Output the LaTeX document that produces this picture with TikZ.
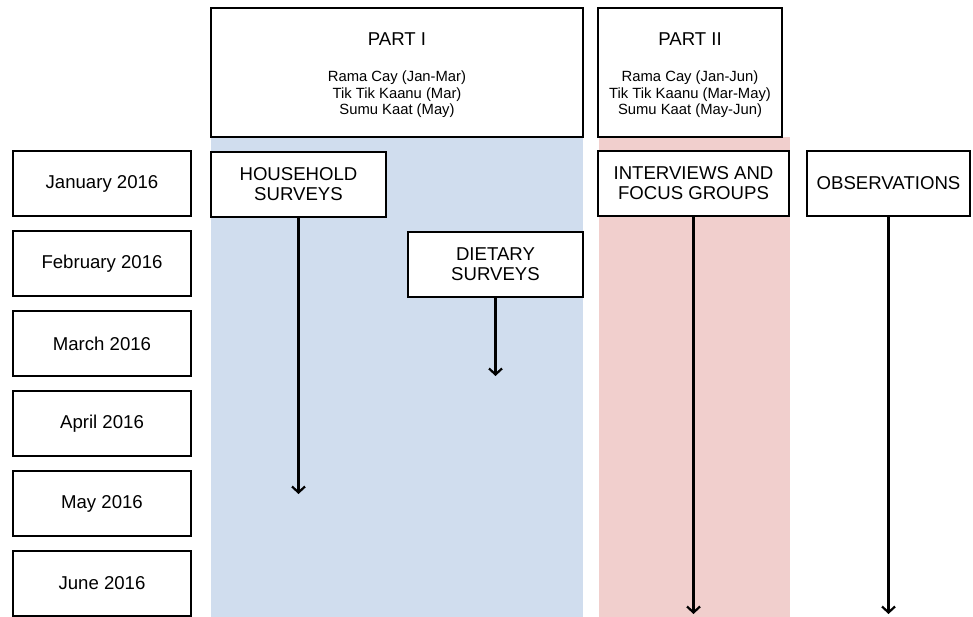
\documentclass[tikz,border=0pt]{standalone}
\usepackage{fontspec}
\setmainfont{Liberation Sans}
\usetikzlibrary{arrows.meta}
\definecolor{bandblue}{HTML}{D0DDEE}
\definecolor{bandpink}{HTML}{F1CFCD}
\tikzset{
  box/.style={draw=black, line width=2.2pt, fill=white, align=center, inner sep=0pt, font=\fontsize{18.6}{20}\selectfont},
  month/.style={box, minimum width=178pt, minimum height=65pt},
  method/.style={box, minimum height=65pt},
  part/.style={box, minimum height=129pt},
  parttext/.style={align=center, inner sep=0pt, font=\fontsize{14.8}{16.5}\selectfont},
  flow/.style={draw=black, line width=2.2pt, -{Straight Barb[length=6pt,width=13pt]}}
}

\begin{document}
\begin{tikzpicture}[x=1pt,y=-1pt]
  \useasboundingbox (0,0) rectangle (973,617);
  % shaded columns
  \fill[bandblue] (211,137) rectangle (583,617);
  \fill[bandpink] (599,137) rectangle (790,617);

  \node[part, minimum width=372pt] (part1) at (397,72.5) {};
  \node[parttext] (part1txt) at ([yshift=-2.5pt]part1.center)
    {{\fontsize{18.6}{20}\selectfont PART I}\\[20pt]Rama Cay (Jan-Mar)\\Tik Tik Kaanu (Mar)\\Sumu Kaat (May)};
  \node[part, minimum width=184pt] (part2) at (690,72.5) {};
  \node[parttext] (part2txt) at ([yshift=-2.5pt]part2.center)
    {{\fontsize{18.6}{20}\selectfont PART II}\\[20pt]Rama Cay (Jan-Jun)\\Tik Tik Kaanu (Mar-May)\\Sumu Kaat (May-Jun)};

  % months
  \foreach \name/\lab [count=\i] in {jan/January, feb/February, mar/March, apr/April, may/May, jun/June}
    \node[month] (\name) at (102,{183.5+80*(\i-1)}) {\lab{} 2016};

  % methods
  \node[method, minimum width=175pt] (house) at (298.5,184.5) {HOUSEHOLD\\SURVEYS};
  \node[method, minimum width=175pt] (diet) at (495.5,264.5) {DIETARY\\SURVEYS};
  \node[method, minimum width=191pt] (inter) at (693.5,183.5) {INTERVIEWS AND\\FOCUS GROUPS};
  \node[method, minimum width=163pt] (obs) at (888.5,183.5) {OBSERVATIONS};

  \coordinate (houseend) at (298.5,494);
  \coordinate (dietend) at (495.5,376);
  \coordinate (interend) at (693.5,614);
  \coordinate (obsend) at (888.5,614);

  \draw[flow] (house) -- (houseend);
  \draw[flow] (diet) -- (dietend);
  \draw[flow] (inter) -- (interend);
  \draw[flow] (obs) -- (obsend);
\end{tikzpicture}
\end{document}
